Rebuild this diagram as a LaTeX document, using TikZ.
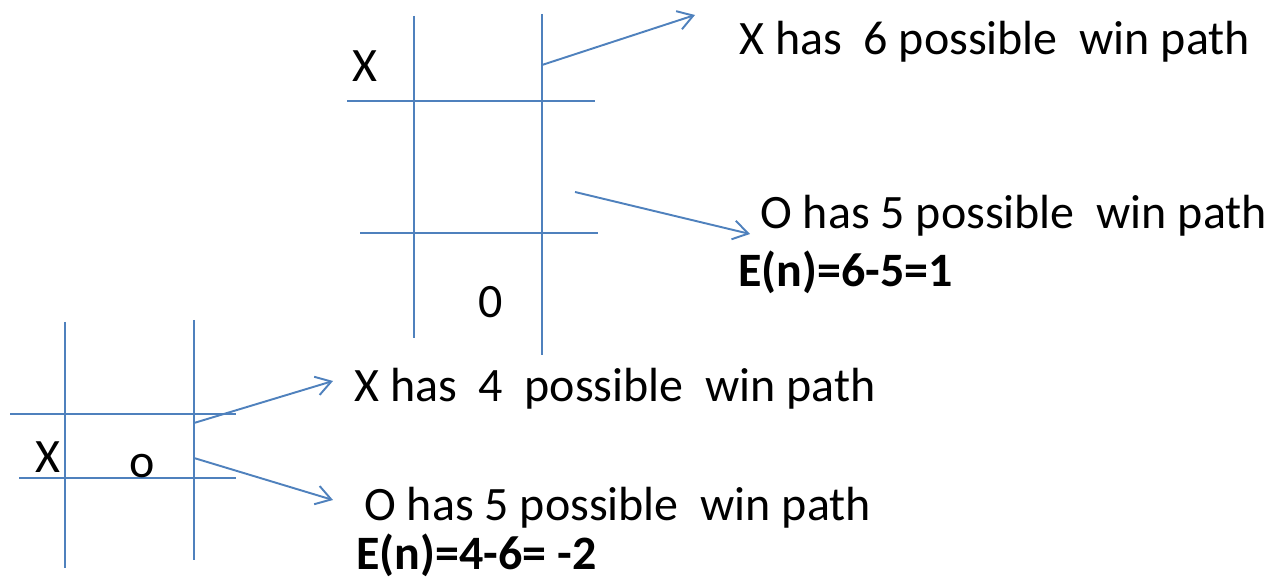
\documentclass[tikz,border=0pt]{standalone}
\usepackage{fontspec}
\setmainfont{Carlito}
\usetikzlibrary{arrows.meta}
\definecolor{gridblue}{RGB}{79,129,189}

\begin{document}
\begin{tikzpicture}[x=0.02cm, y=-0.02cm,
    grid/.style={draw=gridblue, line width=1.1pt},
    win/.style={grid, -{Straight Barb[length=0.3cm, width=0.38cm]}},
    every node/.style={anchor=base west, inner sep=0pt, font=\fontsize{27.3}{33}\selectfont}]
    \useasboundingbox (0,0) rectangle (1272,580);

    % upper board
    \draw[grid] (414,16) -- (414,338);
    \draw[grid] (542,14) -- (542,355);
    \draw[grid] (347,101) -- (595,101);
    \draw[grid] (360,233) -- (598,233);
    \node (X1) at (352,82) {X};
    \node (O1) at (478,318) {0};

    % upper text
    \node (t1) at (739,55) {X has~ 6 possible~ win path};
    \node (t2) at (760,229) {O has 5 possible~ win path};
    \node[font=\fontsize{27.3}{33}\selectfont\bfseries] (e1) at (738,287) {E(n)=6-5=1};

    \coordinate (a1) at (542,65);
    \coordinate (b1) at (695,15);
    \coordinate (a2) at (575,192);
    \coordinate (b2) at (750,234);
    \draw[win] (a1) -- (b1);
    \draw[win] (a2) -- (b2);

    % lower board
    \draw[grid] (65,322) -- (65,568);
    \draw[grid] (194,320) -- (194,560);
    \draw[grid] (10,414) -- (236,414);
    \draw[grid] (19,478) -- (236,478);
    \node (X2) at (35,473) {X};
    \node (O2) at (129,478) {o};

    % lower text
    \node (t3) at (354,402) {X has~ 4~ possible~ win path};
    \node (t4) at (364,521) {O has 5 possible~ win path};
    \node[font=\fontsize{27.3}{33}\selectfont\bfseries] (e2) at (356,570) {E(n)=4-6= -2};

    \coordinate (a3) at (194,423);
    \coordinate (b3) at (333,381);
    \coordinate (a4) at (194,458);
    \coordinate (b4) at (333,500);
    \draw[win] (a3) -- (b3);
    \draw[win] (a4) -- (b4);
\end{tikzpicture}
\end{document}
